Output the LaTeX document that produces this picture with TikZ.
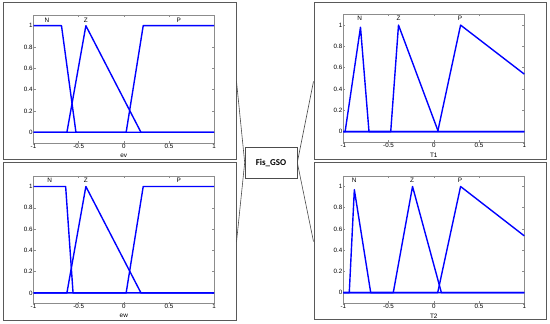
\documentclass[tikz,border=0pt]{standalone}
\usepackage{fontspec}
\setmainfont{Liberation Sans}
\newfontfamily\boxfont{Carlito}
\tikzset{
  x=1pt, y=1pt,
  panel/.style={draw=black!65, line width=1pt, fill=white, inner sep=0pt},
  axisline/.style={draw=black!45, line width=0.5pt},
  mf/.style={draw=blue, line width=1.4pt, line join=round},
  ticklab/.style={font=\fontsize{6.2}{7}\selectfont, text=black, inner sep=0.8pt},
  mflab/.style={font=\fontsize{6.4}{7}\selectfont, text=black, inner sep=0pt},
  xlab/.style={font=\fontsize{6.4}{7}\selectfont, text=black, inner sep=0pt},
  fisbox/.style={draw=black!70, line width=0.6pt, fill=white, minimum width=52pt, minimum height=31pt, inner sep=0pt, font=\boxfont\bfseries\fontsize{9}{10}\selectfont},
  conn/.style={draw=black!70, line width=0.6pt}
}
\newcommand\mfaxesdraw[2]{%
  \draw[axisline] (-1,-0.1) rectangle (1,1.1);
  \foreach \t [count=\i] in {-1,-0.5,0,0.5,1}{%
    \draw[axisline] (\t,-0.1) -- ++(0,2pt);
    \draw[axisline] (\t,1.1) -- ++(0,-2pt);
    \node[ticklab, anchor=north] (#1x\i) at (\t,-0.1) {\t};
  }
  \foreach \t [count=\i] in {0,0.2,0.4,0.6,0.8,1}{%
    \draw[axisline] (-1,\t) -- ++(2pt,0);
    \draw[axisline] (1,\t) -- ++(-2pt,0);
    \node[ticklab, anchor=east] (#1y\i) at (-1,\t) {\t};
  }
  \node[xlab] (#1xl) at (0,-0.22) {#2};
}
\begin{document}
\begin{tikzpicture}
\useasboundingbox (0,0) rectangle (550,324);
\fill[white] (0,0) rectangle (550,324);

% panels
\node[panel, minimum width=233pt, minimum height=157pt] (TL) at (119.5,242.5) {};
\node[panel, minimum width=233pt, minimum height=158pt] (BL) at (119.5,82) {};
\node[panel, minimum width=232pt, minimum height=157pt] (TR) at (430,242.5) {};
\node[panel, minimum width=232pt, minimum height=157pt] (BR) at (430,82.5) {};

% central box and connectors
\node[fisbox] (fis) at (271,161.5) {Fis\_GSO};
\draw[conn] (TL.east) -- (fis.west);
\draw[conn] (BL.east) -- (fis.west);
\draw[conn] (TR.west) -- (fis.east);
\draw[conn] (BR.west) -- (fis.east);

% top-left: ev
\begin{scope}[shift={(123.8pt,191.7pt)}, x=90.3pt, y=106.6pt]
  \mfaxesdraw{TLa}{ev}
  \draw[mf] (-1,1) -- (-0.69,1) -- (-0.53,0) -- (1,0);
  \draw[mf] (-1,0) -- (-0.63,0) -- (-0.42,1) -- (0.19,0) -- (1,0);
  \draw[mf] (-1,0) -- (0.026,0) -- (0.215,1) -- (1,1);
  \node[mflab] (TLN) at (-0.85,1.055) {N};
  \node[mflab] (TLZ) at (-0.42,1.055) {Z};
  \node[mflab] (TLP) at (0.61,1.055) {P};
\end{scope}

% bottom-left: ew
\begin{scope}[shift={(123.8pt,31.1pt)}, x=90.3pt, y=106.4pt]
  \mfaxesdraw{BLa}{ew}
  \draw[mf] (-1,1) -- (-0.644,1) -- (-0.562,0) -- (1,0);
  \draw[mf] (-1,0) -- (-0.63,0) -- (-0.42,1) -- (0.19,0) -- (1,0);
  \draw[mf] (-1,0) -- (0.026,0) -- (0.215,1) -- (1,1);
  \node[mflab] (BLN) at (-0.82,1.055) {N};
  \node[mflab] (BLZ) at (-0.42,1.055) {Z};
  \node[mflab] (BLP) at (0.61,1.055) {P};
\end{scope}

% top-right: T1
\begin{scope}[shift={(433.8pt,192.3pt)}, x=90.5pt, y=106.6pt]
  \mfaxesdraw{TRa}{T1}
  \draw[mf] (-1,0) -- (-0.98,0) -- (-0.81,0.98) -- (-0.716,0) -- (1,0);
  \draw[mf] (-1,0) -- (-0.476,0) -- (-0.39,1) -- (0.05,0) -- (1,0);
  \draw[mf] (-1,0) -- (0.043,0) -- (0.296,1) -- (1,0.54);
  \node[mflab] (TRN) at (-0.82,1.06) {N};
  \node[mflab] (TRZ) at (-0.39,1.06) {Z};
  \node[mflab] (TRP) at (0.29,1.06) {P};
\end{scope}

% bottom-right: T2
\begin{scope}[shift={(433.8pt,31.3pt)}, x=90.5pt, y=106.2pt]
  \mfaxesdraw{BRa}{T2}
  \draw[mf] (-1,0) -- (-0.934,0) -- (-0.878,0.97) -- (-0.697,0) -- (1,0);
  \draw[mf] (-1,0) -- (-0.448,0) -- (-0.235,1) -- (0.084,0) -- (1,0);
  \draw[mf] (-1,0) -- (0.043,0) -- (0.296,1) -- (1,0.535);
  \node[mflab] (BRN) at (-0.88,1.055) {N};
  \node[mflab] (BRZ) at (-0.24,1.055) {Z};
  \node[mflab] (BRP) at (0.29,1.055) {P};
\end{scope}
\end{tikzpicture}
\end{document}
